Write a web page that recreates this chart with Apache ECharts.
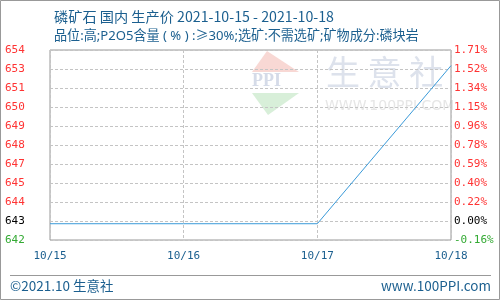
<!DOCTYPE html>
<html><head><meta charset="utf-8">
<script src="https://cdn.jsdelivr.net/npm/echarts@6/dist/echarts.min.js"></script>
<style>html,body{margin:0;padding:0;background:#fff}#c{width:500px;height:300px}</style>
</head><body><div id="c"></div>
<script>
const categories = ['10/15', '10/16', '10/17', '10/18'];
const prices = [642.8, 642.8, 642.8, 652.8];
const axisMin = 641.77;
const axisMax = 653.79;
const leftTickLabels = ['642', '643', '644', '645', '647', '648', '649', '650', '651', '653', '654'];
const rightTickLabels = ['-0.16%', '0.00%', '0.22%', '0.40%', '0.59%', '0.78%', '0.96%', '1.15%', '1.34%', '1.52%', '1.71%'];
const titleText = '磷矿石 国内 生产价 2021-10-15 - 2021-10-18';
const subtitleText = '品位:高;P2O5含量 ( % ) :≥30%;选矿:不需选矿;矿物成分:磷块岩';

const nT = leftTickLabels.length;
const tickValues = leftTickLabels.map((_, i) => +(axisMin + (axisMax - axisMin) * i / (nT - 1)).toFixed(4));
const baseIdx = 1;
function idxOf(v) {
  let best = 0, bd = Infinity;
  tickValues.forEach((t, i) => { const d = Math.abs(t - v); if (d < bd) { bd = d; best = i; } });
  return best;
}
function colorOf(v) {
  const i = idxOf(+v);
  return i > baseIdx ? '#ff3333' : (i === baseIdx ? '#000000' : '#33aa33');
}
const labelFont = 'DejaVu Sans Mono, monospace';
const gridLineStyle = {color: '#c4c4c4', type: [3, 2], width: 1};
const chart = echarts.init(document.getElementById('c'), null, {renderer: 'canvas'});
chart.setOption({
  animation: false,
  backgroundColor: '#fff',
  grid: {left: 50, right: 49, top: 50, height: 190, show: true, borderColor: '#999', borderWidth: 1, containLabel: false},
  title: [
    {text: titleText, left: 49, top: 5, textStyle: {fontFamily: 'Noto Sans CJK SC', fontSize: 14.2, fontWeight: 'normal', color: '#1b5f8f'}},
    {text: subtitleText, left: 49, top: 25, textStyle: {fontFamily: 'Noto Sans, Noto Sans CJK SC', fontSize: 13.1, fontWeight: 'normal', color: '#1b5f8f'}}
  ],
  graphic: [
    {type: 'rect', shape: {x: 0.5, y: 0.5, width: 499, height: 299}, style: {fill: null, stroke: '#999', lineWidth: 1}, z: 100},
    {type: 'line', shape: {x1: 10, y1: 275.5, x2: 491, y2: 275.5}, style: {stroke: '#999', lineWidth: 1}},
    {type: 'text', left: 10, top: 279, style: {text: '©2021.10 生意社', font: '13.5px Noto Sans CJK SC', fill: '#1b5f8f'}},
    {type: 'text', right: 9, top: 279, style: {text: 'www.100PPI.com', font: '13.5px Noto Sans CJK SC', fill: '#1b5f8f'}},
    {type: 'polygon', shape: {points: [[267, 51], [299, 72], [252, 72]]}, style: {fill: '#f8d8d4'}, z: -1, silent: true},
    {type: 'text', left: 252, top: 72, style: {text: 'PPI', font: 'bold 18px Liberation Serif', fill: '#d5dbe8'}, z: -1, silent: true},
    {type: 'polygon', shape: {points: [[252, 93], [299, 93], [268, 115]]}, style: {fill: '#d8efd9'}, z: -1, silent: true},
    {type: 'text', left: 326, top: 55, style: {text: '生 意 社', font: '34px Noto Sans CJK SC', fill: '#dde2ec'}, z: -1, silent: true},
    {type: 'text', left: 325, top: 99, style: {text: 'WWW.100PPI.COM', font: '14px DejaVu Sans', fill: '#e6e6e6'}, z: -1, silent: true}
  ],
  xAxis: {
    type: 'category', data: categories, boundaryGap: false,
    axisLine: {show: false}, axisTick: {show: false},
    axisLabel: {color: '#1b5f8f', fontFamily: labelFont, fontSize: 11, margin: 11},
    splitLine: {show: true, lineStyle: gridLineStyle}
  },
  yAxis: [
    {type: 'value', min: 0, max: nT - 1, interval: 1, position: 'left',
     axisLine: {show: false}, axisTick: {show: false}, axisLabel: {show: false},
     splitLine: {show: true, lineStyle: gridLineStyle}},
    {type: 'value', min: axisMin, max: axisMax, position: 'left',
     axisLine: {show: false}, axisTick: {show: false, customValues: tickValues},
     axisLabel: {customValues: tickValues, fontFamily: labelFont, fontSize: 11, margin: 8, align: 'left', padding: [0, 0, 0, -37],
       formatter: v => leftTickLabels[idxOf(v)], color: v => colorOf(v)},
     splitLine: {show: false}},
    {type: 'value', min: axisMin, max: axisMax, position: 'right',
     axisLine: {show: false}, axisTick: {show: false, customValues: tickValues},
     axisLabel: {customValues: tickValues, fontFamily: labelFont, fontSize: 11, margin: 3,
       formatter: v => rightTickLabels[idxOf(v)], color: v => colorOf(v)},
     splitLine: {show: false}}
  ],
  series: [{
    type: 'line', data: prices, yAxisIndex: 1, symbol: 'none',
    lineStyle: {color: '#3a9ad9', width: 1},
    z: 3
  }]
});
</script></body></html>
